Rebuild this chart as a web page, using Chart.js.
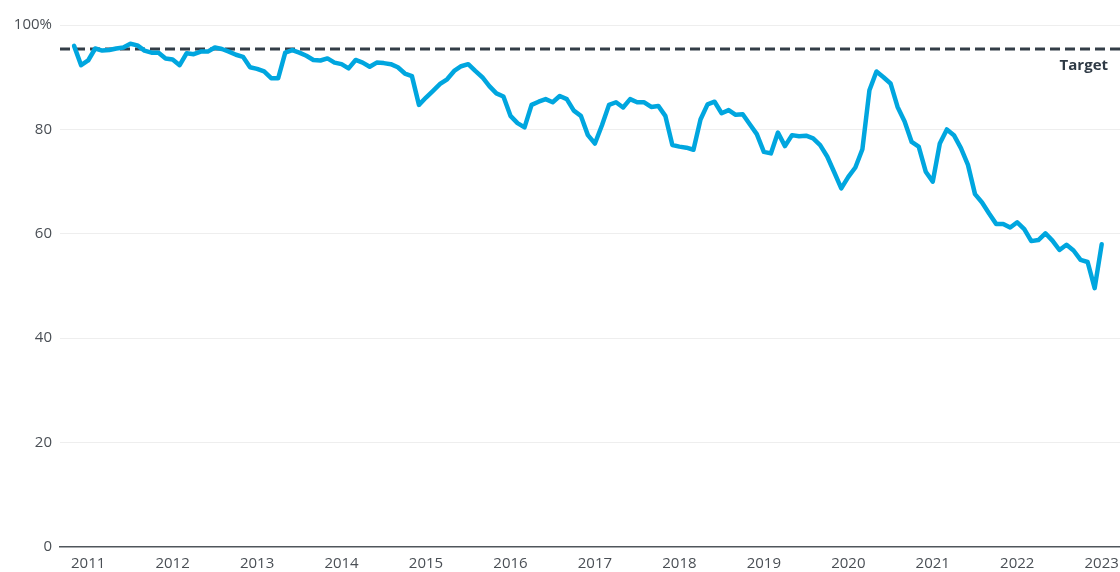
<!DOCTYPE html>
<html>
<head>
<meta charset="utf-8">
<script src="https://cdn.jsdelivr.net/npm/chart.js@4/dist/chart.umd.min.js"></script>
<style>
  html, body { margin: 0; padding: 0; background: #fff; }
  #wrap { width: 1120px; height: 572px; }
</style>
</head>
<body>
<div id="wrap"><canvas id="perfChart" width="1120" height="572"></canvas></div>
<script>
// monthly share, Nov 2010 .. Jan 2023
const firstMonthOffset = -2; // Nov 2010, months counted from Jan 2011
const values2010 = [96.0, 92.3];
const values2011 = [93.2, 95.5, 95.1, 95.2, 95.5, 95.7, 96.4, 96.1, 95.1, 94.7, 94.7, 93.6];
const values2012 = [93.4, 92.3, 94.6, 94.4, 94.9, 94.9, 95.7, 95.4, 94.9, 94.3, 93.9, 91.9];
const values2013 = [91.6, 91.1, 89.8, 89.8, 94.7, 95.2, 94.7, 94.1, 93.3, 93.2, 93.6, 92.8];
const values2014 = [92.5, 91.7, 93.3, 92.8, 92.0, 92.8, 92.7, 92.5, 91.9, 90.7, 90.2, 84.7];
const values2015 = [86.1, 87.4, 88.7, 89.6, 91.2, 92.1, 92.5, 91.2, 90.0, 88.3, 86.9, 86.3];
const values2016 = [82.6, 81.2, 80.4, 84.7, 85.3, 85.8, 85.2, 86.4, 85.8, 83.6, 82.6, 78.9];
const values2017 = [77.3, 80.8, 84.7, 85.2, 84.2, 85.8, 85.2, 85.2, 84.3, 84.5, 82.6, 77.0];
const values2018 = [76.7, 76.5, 76.1, 81.9, 84.8, 85.3, 83.1, 83.7, 82.8, 82.9, 81.0, 79.1];
const values2019 = [75.7, 75.4, 79.4, 76.8, 78.9, 78.7, 78.8, 78.3, 77.0, 74.8, 71.8, 68.7];
const values2020 = [70.9, 72.7, 76.2, 87.5, 91.1, 90.0, 88.8, 84.3, 81.5, 77.6, 76.7, 71.9];
const values2021 = [70.0, 77.3, 80.0, 78.9, 76.4, 73.2, 67.6, 66.0, 63.9, 61.9, 61.9, 61.2];
const values2022 = [62.2, 60.9, 58.6, 58.8, 60.1, 58.7, 56.9, 57.9, 56.8, 55.0, 54.6, 49.6];
const values2023 = [58.0];

const yearLabels = ['2011', '2012', '2013', '2014', '2015', '2016', '2017', '2018', '2019', '2020', '2021', '2022', '2023'];
const yTicks = [0, 20, 40, 60, 80, 100];
const targetValue = 95.4;
const targetLabel = 'Target';

const allValues = [].concat(values2010, values2011, values2012, values2013, values2014,
    values2015, values2016, values2017, values2018, values2019, values2020,
    values2021, values2022, values2023);
const linePoints = allValues.map((v, i) => ({ x: i + firstMonthOffset, y: v }));

const xMin = -4;
const xMax = 146.6;

const labelFont = { family: "'Open Sans', sans-serif", size: 15 };

// writes "Target" just under the dashed line
const targetText = {
    id: 'targetText',
    afterDatasetsDraw(chart) {
        const { ctx, chartArea, scales } = chart;
        const y = scales.y.getPixelForValue(targetValue);
        ctx.save();
        ctx.font = "bold 15px 'Open Sans', sans-serif";
        ctx.fillStyle = '#2f3a45';
        ctx.textAlign = 'right';
        ctx.textBaseline = 'middle';
        ctx.fillText(targetLabel, chartArea.right - 12, y + 17);
        ctx.restore();
    }
};

let ctx = document.getElementById('perfChart').getContext('2d');
let chart = new Chart(ctx, {
    type: 'line',
    data: {
        datasets: [{
            data: linePoints,
            borderColor: '#00a6df',
            borderWidth: 4.5,
            pointRadius: 0,
            tension: 0,
            borderJoinStyle: 'round',
            borderCapStyle: 'round'
        }, {
            data: [{ x: xMin, y: targetValue }, { x: xMax, y: targetValue }],
            borderColor: '#333d47',
            borderWidth: 3,
            borderDash: [10, 5],
            pointRadius: 0
        }]
    },
    options: {
        responsive: false,
        animation: false,
        layout: { padding: { top: 25, right: 0, left: 0, bottom: 0 } },
        plugins: {
            legend: { display: false },
            tooltip: { enabled: false }
        },
        scales: {
            x: {
                type: 'linear',
                min: xMin,
                max: xMax,
                afterBuildTicks: (scale) => {
                    scale.ticks = yearLabels.map((l, i) => ({ value: i * 12 }));
                },
                afterFit: (scale) => {
                    scale.height = 25;
                    scale.paddingLeft = 0;
                    scale.paddingRight = 0;
                },
                ticks: {
                    autoSkip: false,
                    maxRotation: 0,
                    padding: 8,
                    color: '#4a4f55',
                    font: labelFont,
                    callback: (v, i) => yearLabels[i]
                },
                grid: { display: false, drawTicks: false },
                border: { display: true, color: '#50565c', width: 1.5 }
            },
            y: {
                min: 0,
                max: 100,
                afterBuildTicks: (scale) => {
                    scale.ticks = yTicks.map(v => ({ value: v }));
                },
                afterFit: (scale) => { scale.width = 60; },
                ticks: {
                    padding: 8,
                    color: '#4a4f55',
                    font: labelFont,
                    callback: (v) => v === 100 ? v + '%' : v
                },
                grid: {
                    drawTicks: false,
                    color: (c) => c.tick && c.tick.value === 0 ? 'rgba(0,0,0,0)' : '#eeeeee',
                    lineWidth: 1
                },
                border: { display: false }
            }
        }
    },
    plugins: [targetText]
});
</script>
</body>
</html>
